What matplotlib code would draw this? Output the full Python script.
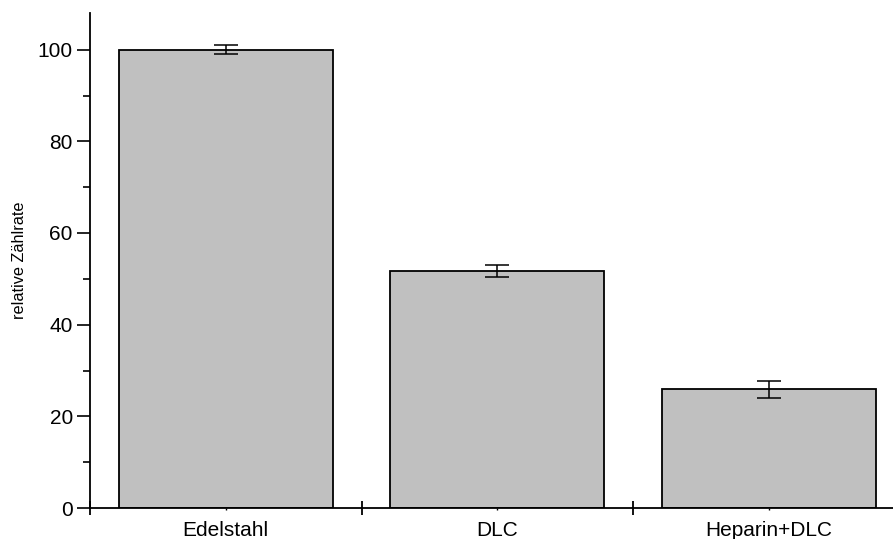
import matplotlib
matplotlib.use("Agg")
import matplotlib.pyplot as plt
from matplotlib.ticker import FixedLocator, NullFormatter

plt.rcParams.update({
    'font.family': ['Liberation Sans', 'DejaVu Sans'],
    'font.size': 15,
})

categories = ["Edelstahl", "DLC", "Heparin+DLC"]
values = [100.0, 51.7, 25.9]
errors = [1.0, 1.3, 1.9]

W, H = 893, 539
fig = plt.figure(figsize=(W / 100, H / 100), dpi=100)
# axes placed in pixels; right part runs past the figure edge like the original
left_px, bottom_px, top_px = 90, 508, 13
step_px = 271.5
ax = fig.add_axes([left_px / W, (H - bottom_px) / H,
                   3 * step_px / W, (bottom_px - top_px) / H])

pos = [1, 2, 3]
ax.bar(pos, values, width=0.79, color='#c0c0c0', edgecolor='black',
       linewidth=1.3, zorder=2)
ax.errorbar(pos, values, yerr=errors, fmt='none', ecolor='black',
            elinewidth=1.1, capsize=8.6, capthick=1.1, zorder=3)

ax.set_xlim(0.5, 3.5)
ax.set_ylim(0, 108)

for s in ['top', 'right']:
    ax.spines[s].set_visible(False)
for s in ['left', 'bottom']:
    ax.spines[s].set_linewidth(1.3)

# y axis
ax.yaxis.set_major_locator(FixedLocator([0, 20, 40, 60, 80, 100]))
ax.yaxis.set_minor_locator(FixedLocator([10, 30, 50, 70, 90]))
ax.tick_params(axis='y', which='major', direction='out', length=9.4,
               width=1.2, pad=3, labelsize=15)
ax.tick_params(axis='y', which='minor', direction='out', length=5, width=1.2)

# x axis: separator ticks between groups, labels at the bar centres
ax.xaxis.set_major_locator(FixedLocator([0.5, 1.5, 2.5, 3.5]))
ax.xaxis.set_major_formatter(NullFormatter())
ax.xaxis.set_minor_locator(FixedLocator(pos))
ax.set_xticks(pos, categories, minor=True)
ax.tick_params(axis='x', which='major', direction='inout', length=9.4,
               width=1.3)
ax.tick_params(axis='x', which='minor', direction='out', length=1.5,
               width=1.0, pad=7.5, labelsize=15)

ax.set_ylabel("relative Zählrate", fontsize=11.7, labelpad=8)

fig.savefig("out.png", dpi=100)
